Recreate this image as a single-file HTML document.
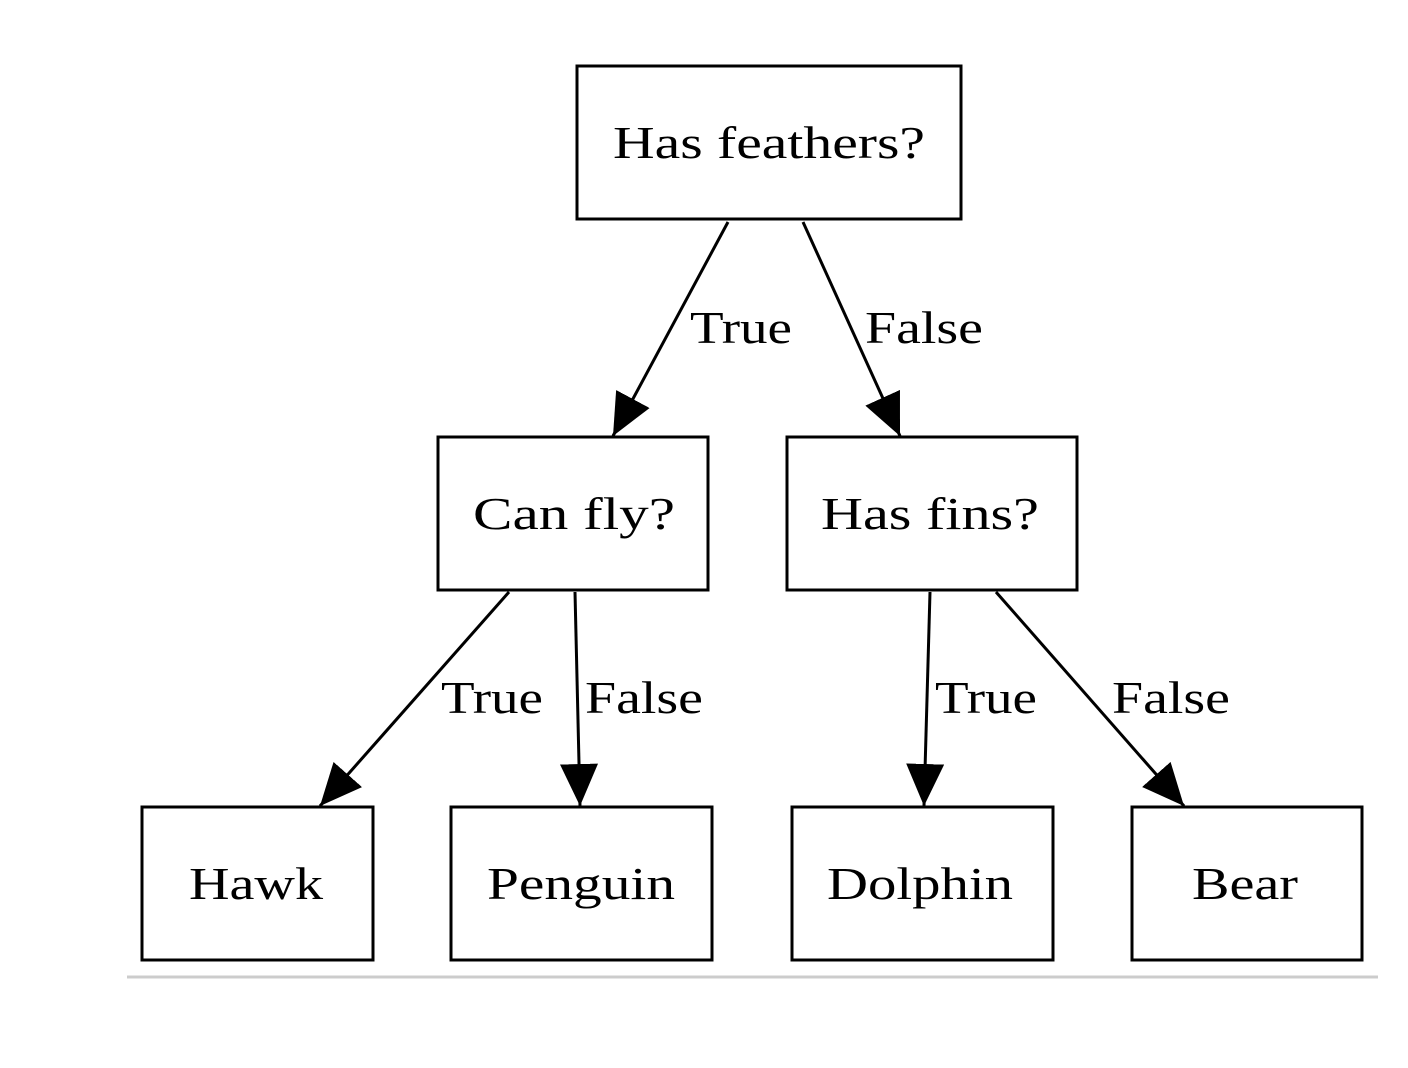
<!DOCTYPE html>
<html><head><meta charset="utf-8"><style>
html,body{margin:0;padding:0;background:#fff;}
svg{display:block;}
text{font-family:"Liberation Serif",serif;font-size:46px;fill:#000;}
</style></head><body>
<svg width="1408" height="1068" viewBox="0 0 1408 1068" xmlns="http://www.w3.org/2000/svg">
<defs>
<marker id="a" markerUnits="userSpaceOnUse" markerWidth="44" markerHeight="40" refX="42" refY="19" orient="auto">
<path d="M0,0 L42,19 L0,38 Z" fill="#000"/>
</marker>
</defs>
<g fill="#fff" stroke="#000" stroke-width="3">
<rect x="577" y="66" width="384" height="153"/>
<rect x="438" y="437" width="270" height="153"/>
<rect x="787" y="437" width="290" height="153"/>
<rect x="142" y="807" width="231" height="153"/>
<rect x="451" y="807" width="261" height="153"/>
<rect x="792" y="807" width="261" height="153"/>
<rect x="1132" y="807" width="230" height="153"/>
</g>
<g stroke="#000" stroke-width="3" fill="none" marker-end="url(#a)">
<line x1="728" y1="222" x2="613" y2="436"/>
<line x1="803" y1="222" x2="900" y2="436"/>
<line x1="509" y1="592" x2="320" y2="806"/>
<line x1="575" y1="592" x2="580" y2="806"/>
<line x1="930" y1="592" x2="924" y2="806"/>
<line x1="996" y1="592" x2="1184" y2="806"/>
</g>
<line x1="127" y1="977" x2="1378" y2="977" stroke="#ccc" stroke-width="3"/>
<text x="769" y="158" text-anchor="middle" textLength="312" lengthAdjust="spacingAndGlyphs">Has feathers?</text>
<text x="574" y="529" text-anchor="middle" textLength="202" lengthAdjust="spacingAndGlyphs">Can fly?</text>
<text x="930" y="529" text-anchor="middle" textLength="218" lengthAdjust="spacingAndGlyphs">Has fins?</text>
<text x="256" y="899" text-anchor="middle" textLength="134" lengthAdjust="spacingAndGlyphs">Hawk</text>
<text x="581" y="899" text-anchor="middle" textLength="188" lengthAdjust="spacingAndGlyphs">Penguin</text>
<text x="920" y="899" text-anchor="middle" textLength="186" lengthAdjust="spacingAndGlyphs">Dolphin</text>
<text x="1245" y="899" text-anchor="middle" textLength="106" lengthAdjust="spacingAndGlyphs">Bear</text>
<text x="690" y="343" textLength="102" lengthAdjust="spacingAndGlyphs">True</text>
<text x="865" y="343" textLength="118" lengthAdjust="spacingAndGlyphs">False</text>
<text x="441" y="713" textLength="102" lengthAdjust="spacingAndGlyphs">True</text>
<text x="585" y="713" textLength="118" lengthAdjust="spacingAndGlyphs">False</text>
<text x="935" y="713" textLength="102" lengthAdjust="spacingAndGlyphs">True</text>
<text x="1112" y="713" textLength="118" lengthAdjust="spacingAndGlyphs">False</text>
</svg>
</body></html>
